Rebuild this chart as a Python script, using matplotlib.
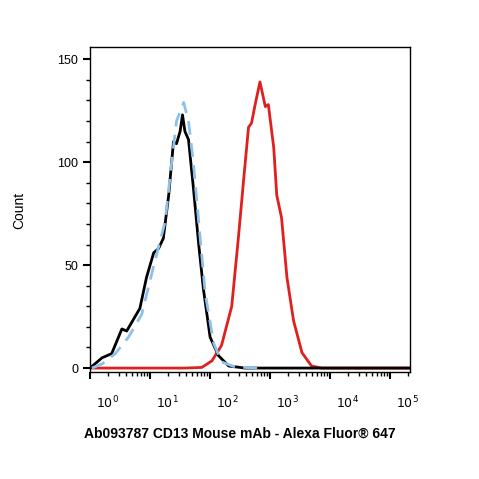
import matplotlib
matplotlib.use('Agg')
import matplotlib.pyplot as plt
import numpy as np

plt.rcParams['font.family'] = ['Liberation Sans', 'DejaVu Sans']

# log10 fluorescence vs count
black_x = [0.0, 0.2, 0.36, 0.53, 0.61, 0.75, 0.83, 0.94, 1.06, 1.14, 1.22, 1.31, 1.39, 1.44,
           1.5, 1.54, 1.58, 1.64, 1.72, 1.81, 1.89, 2.0, 2.14, 2.31, 2.58, 5.33]
black_y = [0, 5, 7, 19, 18, 25, 29, 44, 56, 58, 63, 84, 110, 109,
           115, 123, 115, 111, 88, 60, 38, 15, 6, 1, 0, 0]
blue_x = [0.03, 0.2, 0.42, 0.64, 0.86, 1.08, 1.25, 1.36, 1.44, 1.56, 1.64, 1.72, 1.81, 1.92,
          2.06, 2.19, 2.42, 2.8]
blue_y = [0, 2, 7, 15, 26, 52, 71, 100, 120, 129, 120, 100, 71, 36,
          12, 3, 0.5, 0]
red_x = [0.0, 1.58, 1.86, 2.03, 2.19, 2.36, 2.47, 2.56, 2.64, 2.69, 2.75, 2.83, 2.92, 2.97,
         3.06, 3.11, 3.19, 3.28, 3.39, 3.53, 3.69, 3.86, 5.33]
red_y = [0, 0, 0.3, 3.5, 11, 30, 63, 92, 117, 119, 128, 139, 127, 128,
         107, 84, 73, 44, 23, 7.5, 1, 0, 0]
decades = [0, 1, 2, 3, 4, 5]

fig = plt.figure(figsize=(4.79, 4.79), dpi=100)
ax = fig.add_axes([0.188, 0.223, 0.668, 0.679])

ax.plot(red_x, red_y, color='#e0201f', linewidth=2)
ax.plot(black_x, black_y, color='black', linewidth=2)
ax.plot(blue_x, blue_y, color='#8fc0ea', linewidth=2, linestyle=(0, (5, 3)))

ax.set_xlim(0, 5.33)
ax.set_ylim(-2, 156)

ax.set_xticks(decades)
ax.set_xticklabels([])
minor = [d + np.log10(k) for d in decades for k in range(2, 10) if d + np.log10(k) < 5.33]
ax.set_xticks(minor, minor=True)
for d in decades:
    ax.text(d + 0.1, -0.07, r'$10^{%d}$' % d, transform=ax.get_xaxis_transform(),
            ha='left', va='top', fontsize=9)

ax.set_yticks([0, 50, 100, 150])
ax.set_yticks(range(0, 151, 10), minor=True)
ax.tick_params(axis='both', which='major', length=5, width=1.5, labelsize=9)
ax.tick_params(axis='both', which='minor', length=3, width=1)
for s in ax.spines.values():
    s.set_linewidth(1)

fig.text(0.04, 0.56, 'Count', rotation=90, ha='center', va='center', fontsize=10)
fig.text(0.5, 0.095, 'Ab093787 CD13 Mouse mAb - Alexa Fluor\u00ae 647', ha='center',
         va='center', fontsize=10, fontweight='bold')

fig.savefig('out.png', dpi=100)
